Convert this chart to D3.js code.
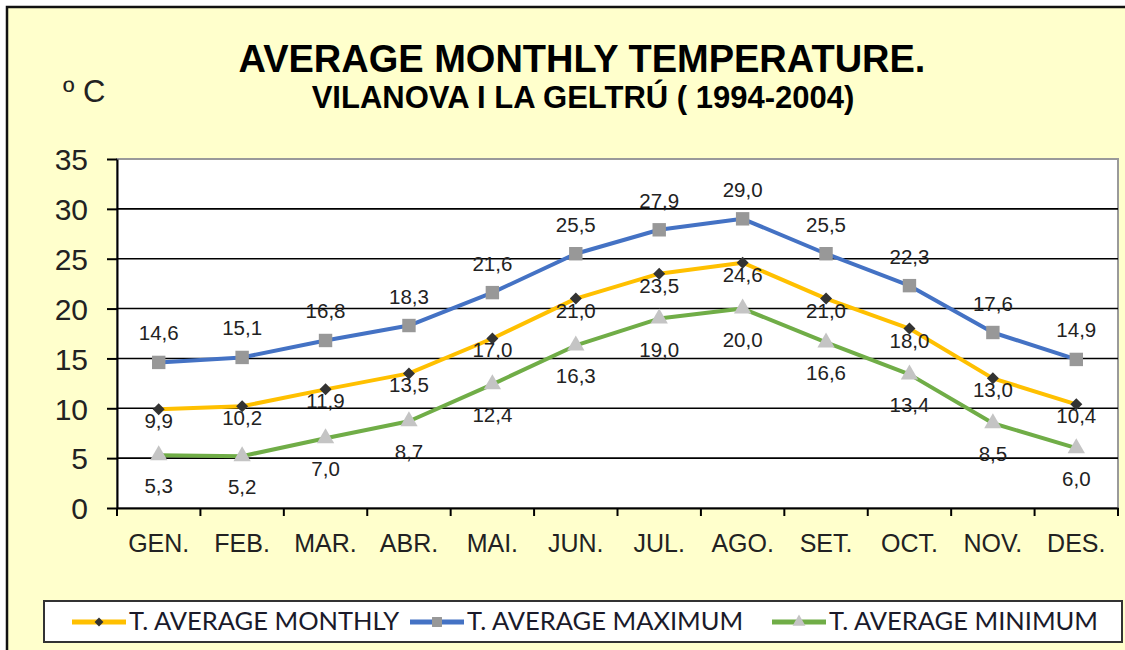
<!DOCTYPE html>
<html>
<head>
<meta charset="utf-8">
<script src="https://cdn.jsdelivr.net/npm/d3@7"></script>
<style>
  body { margin: 0; background: #ffffff; }
  svg { display: block; }
</style>
</head>
<body>
<div id="chart"></div>
<script>
// month labels (catalan abbreviations as in the original)
var months = ["GEN.", "FEB.", "MAR.", "ABR.", "MAI.", "JUN.", "JUL.", "AGO.", "SET.", "OCT.", "NOV.", "DES."];

// series values, ºC
var avgMonthly = [9.9, 10.2, 11.9, 13.5, 17.0, 21.0, 23.5, 24.6, 21.0, 18.0, 13.0, 10.4];
var avgMaximum = [14.6, 15.1, 16.8, 18.3, 21.6, 25.5, 27.9, 29.0, 25.5, 22.3, 17.6, 14.9];
var avgMinimum = [5.3, 5.2, 7.0, 8.7, 12.4, 16.3, 19.0, 20.0, 16.6, 13.4, 8.5, 6.0];

var yTicks = [0, 5, 10, 15, 20, 25, 30, 35];

var seriesNames = ["T. AVERAGE MONTHLY", "T. AVERAGE MAXIMUM", "T. AVERAGE MINIMUM"];

var W = 1125, H = 650;
var plot = {left: 117, right: 1118, top: 159, bottom: 508};

var svg = d3.select("#chart").append("svg")
    .attr("width", W)
    .attr("height", H);

// chart background + frame
svg.append("rect")
    .attr("x", 7).attr("y", 7)
    .attr("width", W + 20).attr("height", H + 20)
    .attr("fill", "#ffffcc")
    .attr("stroke", "#111")
    .attr("stroke-width", 2.5);

var x = d3.scaleBand().domain(months).range([plot.left, plot.right]);
var y = d3.scaleLinear().domain([0, 35]).range([plot.bottom, plot.top]);

// plot area
svg.append("rect")
    .attr("x", plot.left).attr("y", plot.top)
    .attr("width", plot.right - plot.left)
    .attr("height", plot.bottom - plot.top)
    .attr("fill", "#ffffff")
    .attr("stroke", "#9a9a9a")
    .attr("stroke-width", 2);

// horizontal gridlines
svg.append("g").selectAll("line")
    .data(yTicks.filter(d => d > 0 && d < 35))
  .enter().append("line")
    .attr("x1", plot.left).attr("x2", plot.right)
    .attr("y1", d => y(d)).attr("y2", d => y(d))
    .attr("stroke", "#000")
    .attr("stroke-width", 1.6);

// y axis
var yAxis = d3.axisLeft(y).tickValues(yTicks).tickSize(10).tickSizeOuter(0).tickPadding(19);
var gy = svg.append("g")
    .attr("transform", "translate(" + plot.left + ",0)")
    .call(yAxis);
gy.select(".domain").attr("stroke", "#000").attr("stroke-width", 2);
gy.selectAll(".tick line").attr("stroke", "#000").attr("stroke-width", 2);
gy.selectAll(".tick text")
    .attr("fill", "#222")
    .attr("dy", "0.36em")
    .style("font-family", "Liberation Sans, Arial, sans-serif")
    .style("font-size", "30px");

// x axis, ticks between categories
var xAxis = d3.axisBottom(x).tickSize(0).tickPadding(26);
var gx = svg.append("g")
    .attr("transform", "translate(0," + plot.bottom + ")")
    .call(xAxis);
gx.select(".domain").attr("stroke", "#000").attr("stroke-width", 2);
gx.selectAll(".tick text")
    .attr("fill", "#222")
    .style("font-family", "Liberation Sans, Arial, sans-serif")
    .style("font-size", "25px");

svg.append("g").selectAll("line")
    .data(d3.range(months.length + 1))
  .enter().append("line")
    .attr("x1", i => plot.left + i * x.bandwidth())
    .attr("x2", i => plot.left + i * x.bandwidth())
    .attr("y1", plot.bottom).attr("y2", plot.bottom + 8)
    .attr("stroke", "#000")
    .attr("stroke-width", 2);

// series definition (diamond = square turned 45deg)
var series = [
  {name: seriesNames[0], values: avgMonthly, color: "#ffc000", marker: d3.symbolSquare, rot: 45, mSize: 72, mColor: "#333333", labelDy: 19},
  {name: seriesNames[1], values: avgMaximum, color: "#4472c4", marker: d3.symbolSquare, rot: 0, mSize: 180, mColor: "#989898", labelDy: -22},
  {name: seriesNames[2], values: avgMinimum, color: "#70ad47", marker: d3.symbolTriangle, rot: 0, mSize: 130, mColor: "#c4c4c4", labelDy: 38}
];

var cx = (d, i) => x(months[i]) + x.bandwidth() / 2;

var line = d3.line()
    .x((d, i) => cx(d, i))
    .y(d => y(d));

series.forEach(function (s) {
  svg.append("path")
      .attr("d", line(s.values))
      .attr("fill", "none")
      .attr("stroke", s.color)
      .attr("stroke-width", 4)
      .attr("stroke-linejoin", "round");

  svg.append("g").selectAll("path")
      .data(s.values)
    .enter().append("path")
      .attr("d", d3.symbol().type(s.marker).size(s.mSize))
      .attr("transform", (d, i) => "translate(" + cx(d, i) + "," + y(d) + ") rotate(" + s.rot + ")")
      .attr("fill", s.mColor);
});

// data labels on top
var fmt = v => v.toFixed(1).replace(".", ",");
series.forEach(function (s) {
  svg.append("g").selectAll("text")
      .data(s.values)
    .enter().append("text")
      .attr("x", (d, i) => cx(d, i))
      .attr("y", d => y(d) + s.labelDy)
      .attr("text-anchor", "middle")
      .attr("fill", "#222")
      .style("font-family", "Liberation Sans, Arial, sans-serif")
      .style("font-size", "20.5px")
      .text(fmt);
});

// titles
svg.append("text")
    .attr("x", 582).attr("y", 72)
    .attr("text-anchor", "middle")
    .attr("fill", "#000")
    .style("font-family", "Liberation Sans, Arial, sans-serif")
    .style("font-weight", "bold")
    .style("font-size", "38px")
    .text("AVERAGE MONTHLY TEMPERATURE.");

svg.append("text")
    .attr("x", 583).attr("y", 108)
    .attr("text-anchor", "middle")
    .attr("fill", "#000")
    .style("font-family", "Liberation Sans, Arial, sans-serif")
    .style("font-weight", "bold")
    .style("font-size", "31px")
    .text("VILANOVA I LA GELTRÚ ( 1994-2004)");

svg.append("text")
    .attr("x", 63).attr("y", 102)
    .attr("fill", "#222")
    .style("font-family", "Liberation Sans, Arial, sans-serif")
    .style("font-size", "31px")
    .text("º C");

// legend
var legendX = [72, 410, 772];
var legend = svg.append("g");
legend.append("rect")
    .attr("x", 44).attr("y", 601)
    .attr("width", 1078).attr("height", 41)
    .attr("fill", "#ffffff")
    .attr("stroke", "#333")
    .attr("stroke-width", 2);

var items = legend.selectAll(".item")
    .data(series)
  .enter().append("g")
    .attr("class", "item")
    .attr("transform", (d, i) => "translate(" + legendX[i] + ",622)");

items.append("line")
    .attr("x1", 0).attr("x2", 54)
    .attr("stroke", d => d.color)
    .attr("stroke-width", 5);

items.append("path")
    .attr("transform", d => "translate(27,0) rotate(" + d.rot + ")")
    .attr("d", d => d3.symbol().type(d.marker).size(d.mSize * 0.55)())
    .attr("fill", d => d.mColor);

items.append("text")
    .attr("x", 57).attr("y", 8)
    .attr("fill", "#1a1a2a")
    .style("font-family", "Lato, sans-serif")
    .style("font-size", "25.5px")
    .text(d => d.name);
</script>
</body>
</html>
